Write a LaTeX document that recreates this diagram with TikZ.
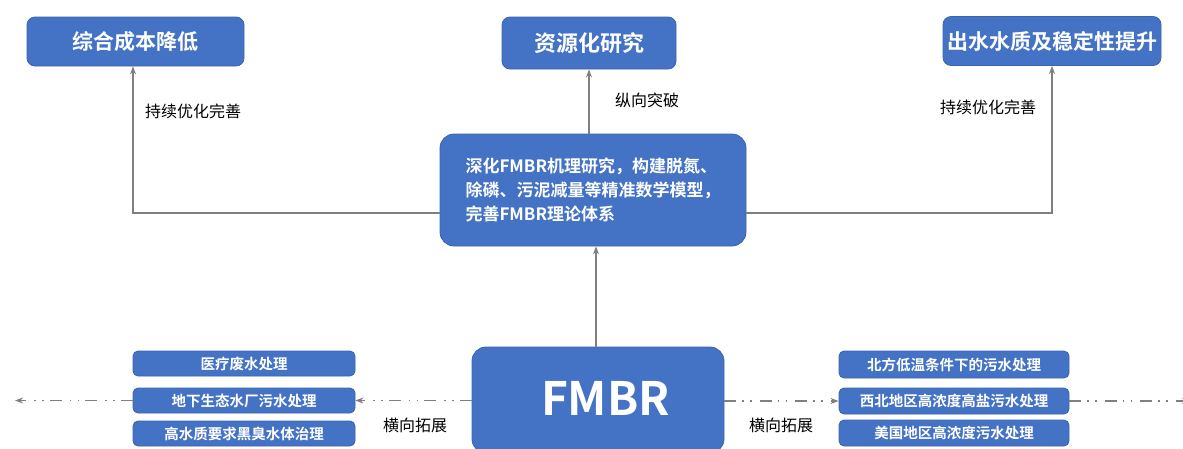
\documentclass[tikz,border=0pt]{standalone}
\usepackage{fontspec}
\setmainfont{Noto Sans CJK SC}[BoldFont={Noto Sans CJK SC Bold}]
\usetikzlibrary{arrows.meta,positioning}
\definecolor{boxblue}{HTML}{4472C4}
\definecolor{boxedge}{HTML}{3A64B0}
\definecolor{linegray}{HTML}{7F7F7F}

\begin{document}
\begin{tikzpicture}[x=1pt,y=-1pt,
	blk/.style = {draw=boxedge, line width=0.8pt, fill=boxblue, text=white, font=\bfseries, inner sep=0pt},
	goal/.style = {blk, rounded corners=8pt, minimum height=49pt, font=\fontsize{21}{24}\selectfont\bfseries},
	item/.style = {blk, rounded corners=5pt, minimum height=25pt, font=\fontsize{14.5}{16}\selectfont\bfseries},
	lbl/.style = {font=\fontsize{16}{18}\selectfont, text=black},
	link/.style = {draw=linegray, line width=1.4pt, -{Stealth[length=8pt,width=6pt]}},
	side/.style = {link, dash pattern=on 12pt off 6pt on 1.5pt off 6.5pt on 1.5pt off 8pt}]
	
	\clip (0,0) rectangle (1183,448);
	
	% top goals
	\node[goal, minimum width=217pt] (cost) at (135.5,41.5) {综合成本降低};
	\node[goal, minimum width=174pt, minimum height=52pt, font=\fontsize{22}{24}\selectfont\bfseries] (res) at (589,43) {资源化研究};
	\node[goal, minimum width=218pt] (water) at (1052,41) {出水水质及稳定性提升};
	
	% theory box
	\node[blk, rounded corners=14pt, minimum width=306pt, minimum height=112pt, align=left,
		font=\fontsize{17}{24}\selectfont\bfseries] (theory) at (593,190)
		{深化FMBR机理研究，构建脱氮、\\除磷、污泥减量等精准数学模型，\\完善FMBR理论体系};
	
	% core
	\node[blk, rounded corners=14pt, minimum width=252pt, minimum height=106pt,
		font=\fontsize{46}{50}\selectfont\bfseries] (fmbr) at (598,400) {};
	\node[text=white, font=\fontsize{46}{50}\selectfont\bfseries] (fmbrtxt) at (605.5,398) {FMBR};
	
	% application lists
	\node[item, minimum width=222pt] (l1) at (244,363.5) {医疗废水处理};
	\node[item, minimum width=222pt] (l2) at (244,400.5) {地下生态水厂污水处理};
	\node[item, minimum width=222pt] (l3) at (244,433.5) {高水质要求黑臭水体治理};
	\node[item, minimum width=230pt, minimum height=27pt] (r1) at (954,364.5) {北方低温条件下的污水处理};
	\node[item, minimum width=230pt, minimum height=26pt] (r2) at (954,401) {西北地区高浓度高盐污水处理};
	\node[item, minimum width=230pt, minimum height=26pt] (r3) at (954,433) {美国地区高浓度污水处理};
	
	\coordinate (lend) at (15,400.5);
	\coordinate (rend) at (1190,401);
	
	% vertical links
	\draw[link] (fmbr.north -| 596,0) -- (theory.south -| 596,0);
	\draw[link] (theory.north -| res.south) -- (res.south);
	\draw[link] (theory.west |- 0,213) -| (cost.south -| 133,0);
	\draw[link] (theory.east |- 0,213) -| (water.south);
	
	% horizontal links
	\draw[side] (fmbr.west |- l2.east) -- (l2.east);
	\draw[side] (l2.west) -- (lend);
	\draw[side] (fmbr.east |- r2.west) -- (r2.west);
	\draw[side] (r2.east) -- (rend);
	
	\node[lbl] (t1) at (193,111) {持续优化完善};
	\node[lbl] (t2) at (647,100) {纵向突破};
	\node[lbl] (t3) at (988,107) {持续优化完善};
	\node[lbl] (t4) at (415,425) {横向拓展};
	\node[lbl] (t5) at (781,425) {横向拓展};
\end{tikzpicture}
\end{document}
